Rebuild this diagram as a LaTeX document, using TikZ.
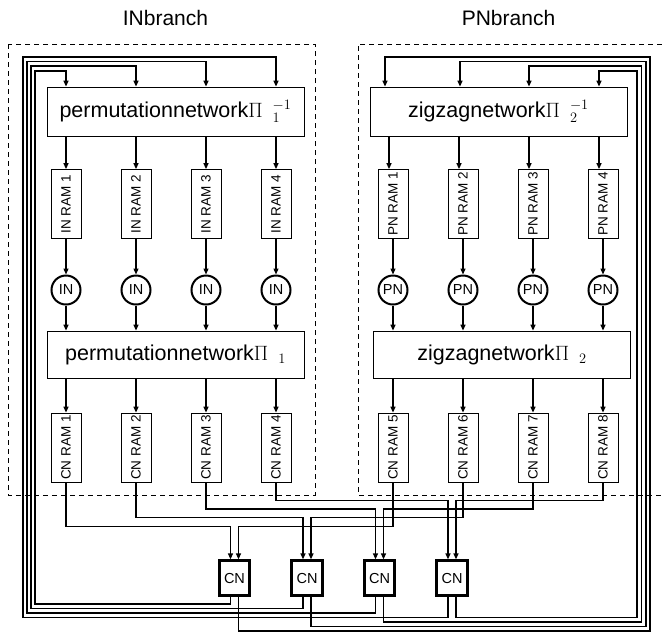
\documentclass[tikz,border=0pt]{standalone}
\usepackage[no-math]{fontspec}
\setmainfont{Liberation Sans}
\usepackage{graphicx}
\usetikzlibrary{arrows.meta}

\begin{document}
\begin{tikzpicture}[x=1pt,y=-1pt,
  wire/.style={line width=1.3pt},
  arr/.style={wire,-{Triangle[length=6pt,width=5pt]}},
  dashbox/.style={line width=0.7pt,dash pattern=on 5pt off 4pt},
  netbox/.style={draw,line width=0.8pt,minimum width=257pt,minimum height=49pt,
    inner sep=0pt,font=\fontsize{21.5}{25}\selectfont},
  rambox/.style={draw,line width=0.8pt,minimum width=30pt,minimum height=69pt,
    inner sep=0pt,font=\fontsize{13.5}{15}\selectfont},
  vnode/.style={draw,circle,line width=2pt,minimum size=29pt,inner sep=0pt,
    font=\fontsize{14.5}{16}\selectfont},
  cnbox/.style={draw,line width=2.8pt,minimum width=30.5pt,minimum height=34.5pt,
    inner sep=0pt,font=\fontsize{14.5}{16}\selectfont},
  title/.style={font=\fontsize{21}{25}\selectfont}]
\useasboundingbox (0,0) rectangle (662,633);

% branch frames and titles
\node[title] (tin) at (165.5,18) {INbranch};
\node[title] (tpn) at (508.5,18) {PNbranch};
\draw[dashbox] (8,44) rectangle (315,495);
\draw[dashbox] (662,44) -- (358,44) -- (358,495) -- (662,495);

% network blocks
\node[netbox] (pinv) at (175.5,111.5) {permutationnetwork$\Pi\hspace{10pt}{}_{1}^{-1}$};
\node[netbox] (zinv) at (498.5,111.5) {zigzagnetwork$\Pi\hspace{10pt}{}_{2}^{-1}$};
\node[netbox,minimum height=47pt] (pnet) at (175.5,354.5) {permutationnetwork$\Pi\hspace{10pt}{}_{1}$};
\node[netbox,minimum height=47pt] (znet) at (502,354.5) {zigzagnetwork$\Pi\hspace{10pt}{}_{2}$};

% IN branch columns
\foreach \i/\x in {1/66,2/136,3/206,4/276} {
  \node[rambox] (inram\i) at (\x,204) {\rotatebox{90}{IN RAM \i}};
  \node[vnode] (in\i) at (\x,290) {IN};
  \node[rambox] (cnram\i) at (\x,447.5) {\rotatebox{90}{CN RAM \i}};
  \draw[arr] (pinv.south -| inram\i.north) -- (inram\i.north);
  \draw[arr] (inram\i.south) -- (in\i.north);
  \draw[arr] (in\i.south) -- (pnet.north -| in\i.south);
  \draw[arr] (pnet.south -| cnram\i.north) -- (cnram\i.north);
}

% PN branch columns
\foreach \i/\x/\c in {1/393/5,2/463/6,3/533/7,4/603/8} {
  \node[rambox] (pnram\i) at (\x,204) {\rotatebox{90}{PN RAM \i}};
  \node[vnode] (pn\i) at (\x,290) {PN};
  \node[rambox] (cnram\c) at (\x,447.5) {\rotatebox{90}{CN RAM \c}};
  \coordinate (zo\i) at ([xshift=-4pt]pnram\i.north);
  \draw[arr] (zinv.south -| zo\i) -- (zo\i);
  \draw[arr] (pnram\i.south) -- (pn\i.north);
  \draw[arr] (pn\i.south) -- (znet.north -| pn\i.south);
  \draw[arr] (znet.south -| cnram\c.north) -- (cnram\c.north);
}
\coordinate (zi1) at ([xshift=-8pt]zinv.north -| pnram1.north);
\coordinate (zi2) at ([xshift=-3pt]zinv.north -| pnram2.north);
\coordinate (zi3) at ([xshift=-4pt]zinv.north -| pnram3.north);
\coordinate (zi4) at ([xshift=-4pt]zinv.north -| pnram4.north);

% check nodes
\foreach \i/\x in {1/234.5,2/307,3/379.5,4/452} {
  \node[cnbox] (cn\i) at (\x,578) {CN};
}

% RAM outputs into the check nodes
\draw[arr] (cnram1.south) -- ++(0,44)   -| ([xshift=-4pt]cn1.north);
\draw[arr] (cnram2.south) -- ++(0,35)   -| ([xshift=-4pt]cn2.north);
\draw[arr] (cnram3.south) -- ++(0,26.5) -| ([xshift=-4pt]cn3.north);
\draw[arr] (cnram4.south) -- ++(0,18)   -| ([xshift=-4pt]cn4.north);
\draw[arr] (cnram5.south) -- ++(0,44)   -| ([xshift=4pt]cn1.north);
\draw[arr] (cnram6.south) -- ++(0,35)   -| ([xshift=4pt]cn2.north);
\draw[arr] (cnram7.south) -- ++(0,26.5) -| ([xshift=4pt]cn3.north);
\draw[arr] (cnram8.south) -- ++(0,18)   -| ([xshift=4pt]cn4.north);

% feedback to the IN branch (left lanes)
\draw[arr] ([xshift=-4pt]cn1.south) |- (35,604)   |- (66,71)   -- (pinv.north -| inram1.north);
\draw[arr] ([xshift=-4pt]cn2.south) |- (31,608.5) |- (136,66)  -- (pinv.north -| inram2.north);
\draw[arr] ([xshift=-4pt]cn3.south) |- (27,613)   |- (206,61.5)-- (pinv.north -| inram3.north);
\draw[arr] ([xshift=-4pt]cn4.south) |- (23,617.5) |- (276,57)  -- (pinv.north -| inram4.north);

% feedback to the PN branch (right lanes)
\draw[arr] ([xshift=4pt]cn1.south) |- (650,631)   |- (zi1 |- 0,57)   -- (zi1);
\draw[arr] ([xshift=4pt]cn2.south) |- (646,626.5) |- (zi2 |- 0,61.5) -- (zi2);
\draw[arr] ([xshift=4pt]cn3.south) |- (641.5,622) |- (zi3 |- 0,66)   -- (zi3);
\draw[arr] ([xshift=4pt]cn4.south) |- (637,617.5) |- (zi4 |- 0,71)   -- (zi4);
\end{tikzpicture}
\end{document}
